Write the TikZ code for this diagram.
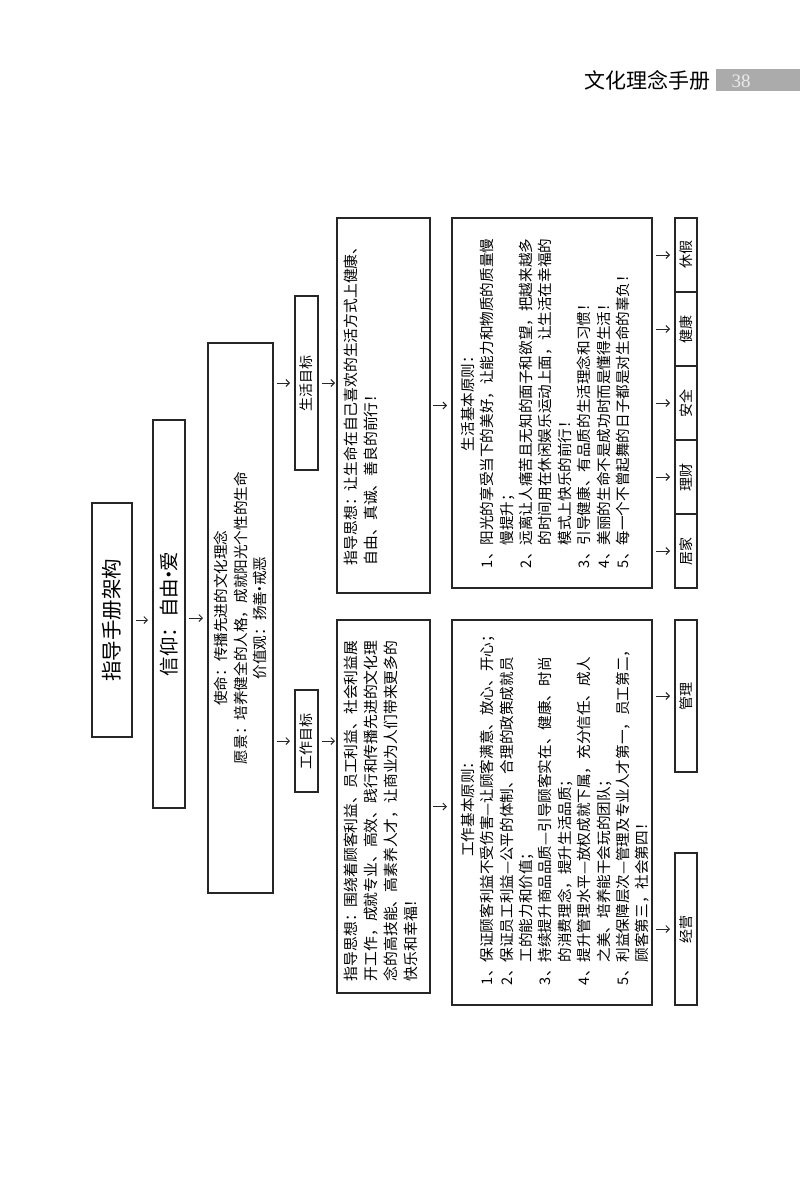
\documentclass[tikz,border=0pt]{standalone}
\usepackage{fontspec}
\setmainfont{Noto Sans CJK SC}
\newfontfamily\numfont{Liberation Serif}
\usetikzlibrary{arrows.meta,calc}
\newcommand\myfs[2]{\fontsize{#1}{#2}\selectfont}
\newcommand\nitem[2]{\makebox[1.55em][l]{#1}#2}
\newcommand\ncont[1]{\hspace*{1.55em}#1}
\newcommand\mdot{\hspace{-0.3em}·\hspace{-0.3em}}
\begin{document}
\begin{tikzpicture}[x=1pt,y=-1pt,
  box/.style={draw=black!85, line width=1.2pt, rotate=90, inner sep=0pt, outer sep=0pt, align=center},
  txt/.style={rotate=90, inner sep=0pt, outer sep=0pt, align=left, font=\myfs{14.6}{19.4}},
  arr/.style={-{Straight Barb[length=3.5pt,width=7pt]}, line width=0.9pt, draw=black!85, shorten <=4pt, shorten >=5pt},
]
\useasboundingbox (0,0) rectangle (800,1198);

% header
\node[font=\myfs{21}{24}, anchor=east, inner sep=0pt] (hd) at (711,80) {文化理念手册};
\fill[black!33] (716,69) rectangle (800,91);
\node[font=\numfont\myfs{19}{20}, text=black!8, inner sep=0pt] (pg) at (741,81) {38};

% main chain
\node[box, minimum width=234pt, minimum height=40pt, font=\myfs{20.5}{24}] (b1) at (112,620) {指导手册架构};
\node[box, minimum width=388pt, minimum height=32pt, font=\myfs{19.5}{24}] (b2) at (169,614) {信仰：自由\mdot 爱};
\node[box, minimum width=550pt, minimum height=65pt, font=\myfs{14.6}{19.5}] (b3) at (240.5,618)
  {使命：传播先进的文化理念\\愿景：培养健全的人格，成就阳光个性的生命\\价值观：扬善\mdot 戒恶};

\node[box, minimum width=174pt, minimum height=23pt, font=\myfs{14}{16}] (lt) at (306.5,383) {生活目标};
\node[box, minimum width=102pt, minimum height=23pt, font=\myfs{14}{16}] (wt) at (306.5,741) {工作目标};

% guide boxes
\node[box, minimum width=375pt, minimum height=93pt] (lg) at (383.5,405.5) {};
\node[txt, font=\myfs{14.8}{20}, anchor=north west] (lgt) at ($(lg.north west)+(7,-28)$)
  {指导思想：让生命在自己喜欢的生活方式上健康、\\自由、真诚、善良的前行！};
\node[box, minimum width=373pt, minimum height=93pt] (wg) at (383.5,806.5) {};
\node[txt, font=\myfs{14.8}{20}, anchor=north west] (wgt) at ($(wg.north west)+(7,-12)$)
  {指导思想：围绕着顾客利益、员工利益、社会利益展\\开工作，成就专业、高效、践行和传播先进的文化理\\念的高技能、高素养人才，让商业为人们带来更多的\\快乐和幸福！};

% principle boxes
\node[box, minimum width=370pt, minimum height=200pt] (lp) at (552,403) {};
\node[txt, anchor=north west] (lpt) at ($(lp.north west)+(9,-20)$)
  {\makebox[336pt][c]{生活基本原则：}\\
   \nitem{1、}{阳光的享受当下的美好，让能力和物质的质量慢}\\
   \ncont{慢提升；}\\
   \nitem{2、}{远离让人痛苦且无知的面子和欲望，把越来越多}\\
   \ncont{的时间用在休闲娱乐运动上面，让生活在幸福的}\\
   \ncont{模式上快乐的前行！}\\
   \nitem{3、}{引导健康、有品质的生活理念和习惯！}\\
   \nitem{4、}{美丽的生命不是成功时而是懂得生活！}\\
   \nitem{5、}{每一个不曾起舞的日子都是对生命的辜负！}};
\node[box, minimum width=385pt, minimum height=200pt] (wp) at (552,812.5) {};
\node[txt, anchor=north west] (wpt) at ($(wp.north west)+(9,-20)$)
  {\makebox[345pt][c]{\hspace*{14pt}工作基本原则：}\\
   \nitem{1、}{保证顾客利益不受伤害—让顾客满意、放心、开心；}\\
   \nitem{2、}{保证员工利益—公平的体制、合理的政策成就员}\\
   \ncont{工的能力和价值；}\\
   \nitem{3、}{持续提升商品品质—引导顾客实在、健康、时尚}\\
   \ncont{的消费理念，提升生活品质；}\\
   \nitem{4、}{提升管理水平—放权成就下属，充分信任、成人}\\
   \ncont{之美、培养能干会玩的团队；}\\
   \nitem{5、}{利益保障层次—管理及专业人才第一，员工第二，}\\
   \ncont{顾客第三，社会第四！}};

% bottom row
\foreach \n/\t/\yc in {c1/休假/255, c2/健康/329, c3/安全/403, c4/理财/477, c5/居家/551}{
  \node[box, minimum width=74pt, minimum height=22pt, font=\myfs{14}{16}] (\n) at (686,\yc) {\t};
  \draw[arr] (\n.north -| lp.south) -- (\n.north);
}
\node[box, minimum width=152pt, minimum height=22pt, font=\myfs{14}{16}] (mg) at (686,696) {管理};
\node[box, minimum width=152pt, minimum height=22pt, font=\myfs{14}{16}] (jy) at (686,929) {经营};

% arrows
\draw[arr] (b1.south) -- (b1.south -| b2.north);
\draw[arr] (b3.north -| b2.south) -- (b3.north);
\draw[arr] (lt.north -| b3.south) -- (lt.north);
\draw[arr] (wt.north -| b3.south) -- (wt.north);
\draw[arr, shorten >=2pt] (lt.south) -- (lt.south -| lg.north);
\draw[arr, shorten >=2pt] (wt.south) -- (wt.south -| wg.north);
\draw[arr, shorten <=3pt] (lg.south) -- (lg.south -| lp.north);
\draw[arr, shorten <=3pt] (wg.south) -- (wg.south -| wp.north);
\draw[arr] (mg.north -| wp.south) -- (mg.north);
\draw[arr] (jy.north -| wp.south) -- (jy.north);
\end{tikzpicture}
\end{document}
